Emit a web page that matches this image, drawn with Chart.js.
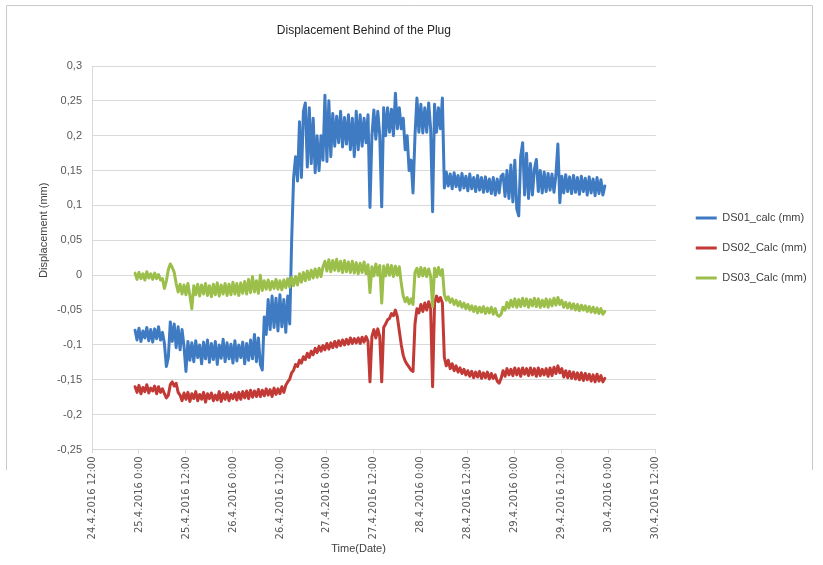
<!DOCTYPE html>
<html>
<head>
<meta charset="utf-8">
<script src="https://cdn.jsdelivr.net/npm/chart.js"></script>
<style>
  html, body { margin: 0; padding: 0; background: #ffffff; }
  #wrap { width: 823px; height: 565px; }
</style>
</head>
<body>
<div id="wrap"><canvas id="c" width="823" height="565"></canvas></div>
<script>
// ---------------- DATA ----------------
// time axis: hours after 25.4.2016 0:00, samples every half hour
const startHour = -1;
const stepHours = 0.5;

const seriesNames = ['DS01_calc (mm)', 'DS02_Calc (mm)', 'DS03_Calc (mm)'];

const ds01 = [
  // -1 .. 5.5
  -0.079,-0.093,-0.076,-0.095,-0.08,-0.09,-0.075,-0.094,-0.078,-0.096,-0.077,-0.091,-0.074,-0.093,
  // 6 .. 11.5
  -0.082,-0.098,-0.131,-0.118,-0.067,-0.095,-0.07,-0.104,-0.074,-0.107,-0.078,-0.102,
  // 12 .. 31.5
  -0.138,-0.095,-0.122,-0.097,-0.124,-0.094,-0.118,-0.1,-0.127,-0.096,
  -0.12,-0.093,-0.125,-0.098,-0.121,-0.095,-0.128,-0.1,-0.119,-0.092,
  -0.124,-0.097,-0.12,-0.099,-0.126,-0.094,-0.123,-0.1,-0.118,-0.096,
  -0.127,-0.098,-0.122,-0.093,-0.12,-0.085,-0.124,-0.09,-0.128,-0.136,
  // 32 .. 38.5
  -0.06,-0.085,-0.035,-0.078,-0.03,-0.075,-0.033,-0.08,-0.028,-0.074,-0.035,-0.082,-0.03,-0.07,
  // 39 .. 77.5
  0.05,0.14,0.17,0.135,0.22,0.14,0.235,0.247,0.155,0.24,
  0.16,0.225,0.147,0.2,0.15,0.2,0.165,0.258,0.163,0.25,
  0.17,0.232,0.185,0.228,0.19,0.235,0.184,0.226,0.188,0.23,
  0.18,0.225,0.17,0.235,0.18,0.23,0.185,0.225,0.19,0.23,
  0.097,0.2,0.237,0.195,0.235,0.2,0.098,0.24,0.2,0.24,
  0.205,0.238,0.2,0.261,0.21,0.24,0.21,0.225,0.18,0.2,
  0.15,0.165,0.118,0.2,0.254,0.205,0.245,0.204,0.24,0.205,
  0.247,0.21,0.091,0.245,0.205,0.24,0.21,0.254,
  // 78 .. 92.5
  0.125,0.148,0.128,0.145,0.124,0.147,0.127,0.143,0.122,0.146,
  0.125,0.142,0.121,0.145,0.124,0.14,0.12,0.143,0.122,0.14,
  0.119,0.141,0.12,0.138,0.117,0.14,0.115,0.138,0.118,0.142,
  // 93 .. 106.5
  0.145,0.113,0.15,0.11,0.158,0.105,0.165,0.095,0.085,0.17,
  0.19,0.115,0.175,0.11,0.16,0.115,0.152,0.166,0.12,0.15,
  0.118,0.148,0.12,0.146,0.122,0.145,0.119,0.144,
  // 107 .. 119
  0.188,0.104,0.142,0.118,0.144,0.12,0.141,0.117,0.143,0.119,
  0.14,0.116,0.142,0.12,0.139,0.115,0.141,0.118,0.138,0.114,
  0.14,0.117,0.137,0.115,0.128
];

const ds02 = [
  // -1 .. 6
  -0.16,-0.168,-0.158,-0.17,-0.161,-0.167,-0.157,-0.169,-0.162,-0.166,-0.159,-0.17,-0.16,-0.168,-0.163,
  // 6.5 .. 10
  -0.17,-0.176,-0.172,-0.157,-0.153,-0.159,-0.155,-0.168,
  // 10.5 .. 30
  -0.172,-0.18,-0.169,-0.178,-0.168,-0.181,-0.17,-0.177,-0.167,-0.18,
  -0.171,-0.178,-0.168,-0.182,-0.17,-0.177,-0.169,-0.18,-0.172,-0.179,
  -0.167,-0.181,-0.17,-0.178,-0.168,-0.18,-0.171,-0.177,-0.169,-0.179,
  -0.168,-0.178,-0.167,-0.176,-0.166,-0.177,-0.165,-0.175,-0.166,-0.174,
  // 30.5 .. 37
  -0.164,-0.174,-0.165,-0.173,-0.163,-0.172,-0.164,-0.174,-0.162,-0.171,-0.163,-0.17,-0.16,-0.168,
  // 37.5 .. 58.5
  -0.158,-0.153,-0.149,-0.14,-0.136,-0.128,-0.131,-0.122,-0.126,-0.117,
  -0.121,-0.112,-0.118,-0.109,-0.114,-0.105,-0.111,-0.102,-0.109,-0.101,
  -0.107,-0.098,-0.106,-0.097,-0.104,-0.095,-0.103,-0.094,-0.101,-0.093,
  -0.1,-0.092,-0.099,-0.09,-0.098,-0.091,-0.097,-0.09,-0.098,-0.089,
  -0.096,-0.088,-0.095,
  // 59 .. 77.5
  -0.153,-0.088,-0.078,-0.09,-0.077,-0.088,-0.153,-0.075,-0.07,-0.064,
  -0.062,-0.055,-0.058,-0.05,-0.06,-0.08,-0.1,-0.115,-0.123,-0.128,
  -0.132,-0.136,-0.138,-0.07,-0.048,-0.054,-0.042,-0.052,-0.04,-0.05,
  -0.038,-0.048,-0.16,-0.04,-0.03,-0.038,-0.032,-0.04,
  // 78 .. 119
  -0.118,-0.13,-0.122,-0.134,-0.127,-0.137,-0.13,-0.139,-0.133,-0.141,
  -0.135,-0.143,-0.137,-0.145,-0.138,-0.147,-0.139,-0.146,-0.138,-0.148,
  -0.14,-0.147,-0.139,-0.149,-0.141,-0.148,-0.143,-0.152,-0.155,-0.148,
  -0.137,-0.145,-0.134,-0.143,-0.135,-0.144,-0.133,-0.143,-0.134,-0.145,
  -0.133,-0.142,-0.134,-0.144,-0.133,-0.143,-0.134,-0.145,-0.133,-0.144,
  -0.135,-0.143,-0.134,-0.145,-0.133,-0.144,-0.132,-0.141,-0.13,-0.14,
  -0.134,-0.146,-0.137,-0.147,-0.138,-0.148,-0.139,-0.149,-0.14,-0.15,
  -0.14,-0.151,-0.141,-0.15,-0.142,-0.152,-0.143,-0.153,-0.142,-0.152,
  -0.144,-0.153,-0.148
];

const ds03 = [
  // -1 .. 5.5
  0.003,-0.006,0.004,-0.005,0.002,-0.007,0.005,-0.004,0.002,-0.006,0.003,-0.005,0.001,-0.007,
  // 6 .. 10.5
  -0.005,-0.019,-0.008,0.008,0.016,0.011,0.004,-0.012,-0.024,-0.013,
  // 11 .. 31.5
  -0.027,-0.014,-0.028,-0.012,-0.029,-0.048,-0.015,-0.028,-0.013,-0.03,
  -0.014,-0.027,-0.012,-0.029,-0.015,-0.031,-0.013,-0.028,-0.011,-0.03,
  -0.014,-0.027,-0.012,-0.029,-0.013,-0.028,-0.01,-0.027,-0.012,-0.029,
  -0.011,-0.026,-0.009,-0.027,-0.006,-0.025,-0.002,-0.024,-0.008,-0.026,
  0.0,-0.022,
  // 32 .. 38.5
  -0.008,-0.02,-0.007,-0.021,-0.009,-0.019,-0.006,-0.02,-0.008,-0.021,-0.007,-0.018,-0.005,-0.017,
  // 39 .. 47
  -0.003,-0.015,-0.002,-0.014,0.002,-0.01,0.004,-0.008,0.006,-0.006,
  0.007,-0.004,0.009,-0.003,0.01,-0.002,0.012,
  // 47.5 .. 58.5
  0.02,0.006,0.022,0.005,0.021,0.007,0.023,0.006,0.02,0.004,
  0.021,0.005,0.019,0.004,0.02,0.003,0.018,0.002,0.017,0.004,
  0.019,0.002,0.015,
  // 59 .. 77.5
  -0.025,0.012,-0.001,0.016,0.0,0.014,-0.04,0.013,-0.001,0.015,
  0.0,0.014,-0.002,0.013,0.0,0.012,-0.012,-0.03,-0.038,-0.032,
  -0.041,-0.034,-0.042,0.004,0.01,-0.002,0.011,-0.001,0.01,-0.002,
  0.009,-0.001,-0.045,0.01,-0.002,0.011,0.0,0.008,
  // 78 .. 119
  -0.028,-0.036,-0.031,-0.039,-0.034,-0.042,-0.036,-0.044,-0.038,-0.046,
  -0.04,-0.048,-0.042,-0.05,-0.044,-0.052,-0.045,-0.054,-0.046,-0.053,
  -0.045,-0.055,-0.047,-0.054,-0.046,-0.056,-0.048,-0.057,-0.059,-0.056,
  -0.046,-0.05,-0.039,-0.047,-0.036,-0.045,-0.034,-0.046,-0.035,-0.045,
  -0.033,-0.044,-0.034,-0.046,-0.035,-0.044,-0.033,-0.045,-0.034,-0.046,
  -0.036,-0.045,-0.034,-0.046,-0.035,-0.044,-0.033,-0.043,-0.032,-0.042,
  -0.036,-0.046,-0.039,-0.047,-0.04,-0.048,-0.041,-0.05,-0.042,-0.051,
  -0.043,-0.05,-0.044,-0.052,-0.045,-0.053,-0.046,-0.054,-0.047,-0.055,
  -0.048,-0.056,-0.052
];

// axis tick labels
const xTickLabels = [
  '24.4.2016 12:00', '25.4.2016 0:00', '25.4.2016 12:00', '26.4.2016 0:00',
  '26.4.2016 12:00', '27.4.2016 0:00', '27.4.2016 12:00', '28.4.2016 0:00',
  '28.4.2016 12:00', '29.4.2016 0:00', '29.4.2016 12:00', '30.4.2016 0:00',
  '30.4.2016 12:00'
];
const yTickLabels = ['-0,25','-0,2','-0,15','-0,1','-0,05','0','0,05','0,1','0,15','0,2','0,25','0,3'];

const chartTitle = 'Displacement Behind of the Plug';
const xTitle = 'Time(Date)';
const yTitle = 'Displacement (mm)';

// ---------------- CHART ----------------
const xMin = -12, xMax = 132, xStep = 12;
const yMin = -0.25, yMax = 0.3, yStep = 0.05;

const toPoints = arr => arr.map((v, i) => ({ x: startHour + i * stepHours, y: v }));
const colors = ['#3f7bc2', '#c23a35', '#9bbf4a'];

const framePlugin = {
  id: 'frame',
  beforeDraw(chart) {
    const ctx = chart.ctx;
    ctx.save();
    ctx.fillStyle = '#ffffff';
    ctx.fillRect(0, 0, chart.width, chart.height);
    ctx.strokeStyle = '#c9c9c9';
    ctx.lineWidth = 1;
    ctx.beginPath();
    ctx.moveTo(6.5, 470); ctx.lineTo(6.5, 5.5); ctx.lineTo(812.5, 5.5); ctx.lineTo(812.5, 470);
    ctx.stroke();
    ctx.restore();
  }
};

const datasets = [ds01, ds02, ds03].map((arr, k) => ({
  label: seriesNames[k],
  data: toPoints(arr),
  borderColor: colors[k],
  backgroundColor: colors[k],
  borderWidth: 3,
  borderJoinStyle: 'round',
  borderCapStyle: 'round',
  pointRadius: 0,
  tension: 0,
  order: 3 - k,
  yAxisID: 'y'
}));

new Chart(document.getElementById('c'), {
  type: 'line',
  data: { datasets },
  plugins: [framePlugin],
  options: {
    responsive: false,
    animation: false,
    events: [],
    layout: { padding: { left: 8, right: 12.5, top: 5, bottom: 9.4 } },
    plugins: {
      title: {
        display: true,
        text: chartTitle + '      ',
        fullSize: false,
        color: '#262626',
        font: { family: 'Liberation Sans', size: 12, weight: 'normal' },
        padding: { top: 18.8, bottom: 27.8 }
      },
      legend: {
        display: true,
        position: 'right',
        align: 'start',
        fullSize: true,
        title: { display: true, text: '', font: { size: 1 }, padding: { top: 187.3, bottom: 0 } },
        labels: {
          usePointStyle: true,
          pointStyle: 'line',
          pointStyleWidth: 21,
          padding: 19,
          color: '#404040',
          font: { family: 'Liberation Sans', size: 11 },
          sort: (a, b) => a.datasetIndex - b.datasetIndex
        }
      },
      tooltip: { enabled: false }
    },
    scales: {
      x: {
        type: 'linear',
        min: xMin, max: xMax,
        ticks: {
          stepSize: xStep,
          autoSkip: false,
          minRotation: 90, maxRotation: 90,
          padding: 3,
          color: '#595959',
          font: { family: 'DejaVu Sans', size: 10 },
          callback: v => xTickLabels[Math.round((v - xMin) / xStep)]
        },
        grid: { drawOnChartArea: false, drawTicks: true, tickLength: 4, color: '#d9d9d9' },
        border: { color: '#d9d9d9' },
        title: {
          display: true,
          text: xTitle + '          ',
          color: '#404040',
          font: { family: 'Liberation Sans', size: 11 },
          padding: { top: 0, bottom: 0 }
        }
      },
      y: {
        type: 'linear',
        position: 'left',
        min: yMin, max: yMax,
        afterFit: s => { s.width = 84; },
        ticks: {
          stepSize: yStep,
          padding: 10,
          color: '#595959',
          font: { family: 'Liberation Sans', size: 11 },
          callback: v => yTickLabels[Math.round((v - yMin) / yStep)]
        },
        grid: { color: '#d9d9d9', drawTicks: false },
        border: { color: '#d9d9d9' },
        title: {
          display: true,
          text: '                  ' + yTitle,
          color: '#404040',
          font: { family: 'Liberation Sans', size: 11 },
          padding: { top: 29.4, bottom: 0 }
        }
      },
      yGap: {
        type: 'linear',
        position: 'right',
        min: 0, max: 1,
        display: true,
        grid: { display: false, drawTicks: false },
        ticks: { display: false },
        border: { display: false },
        afterFit: s => { s.width = 21; }
      }
    }
  }
});
</script>
</body>
</html>
